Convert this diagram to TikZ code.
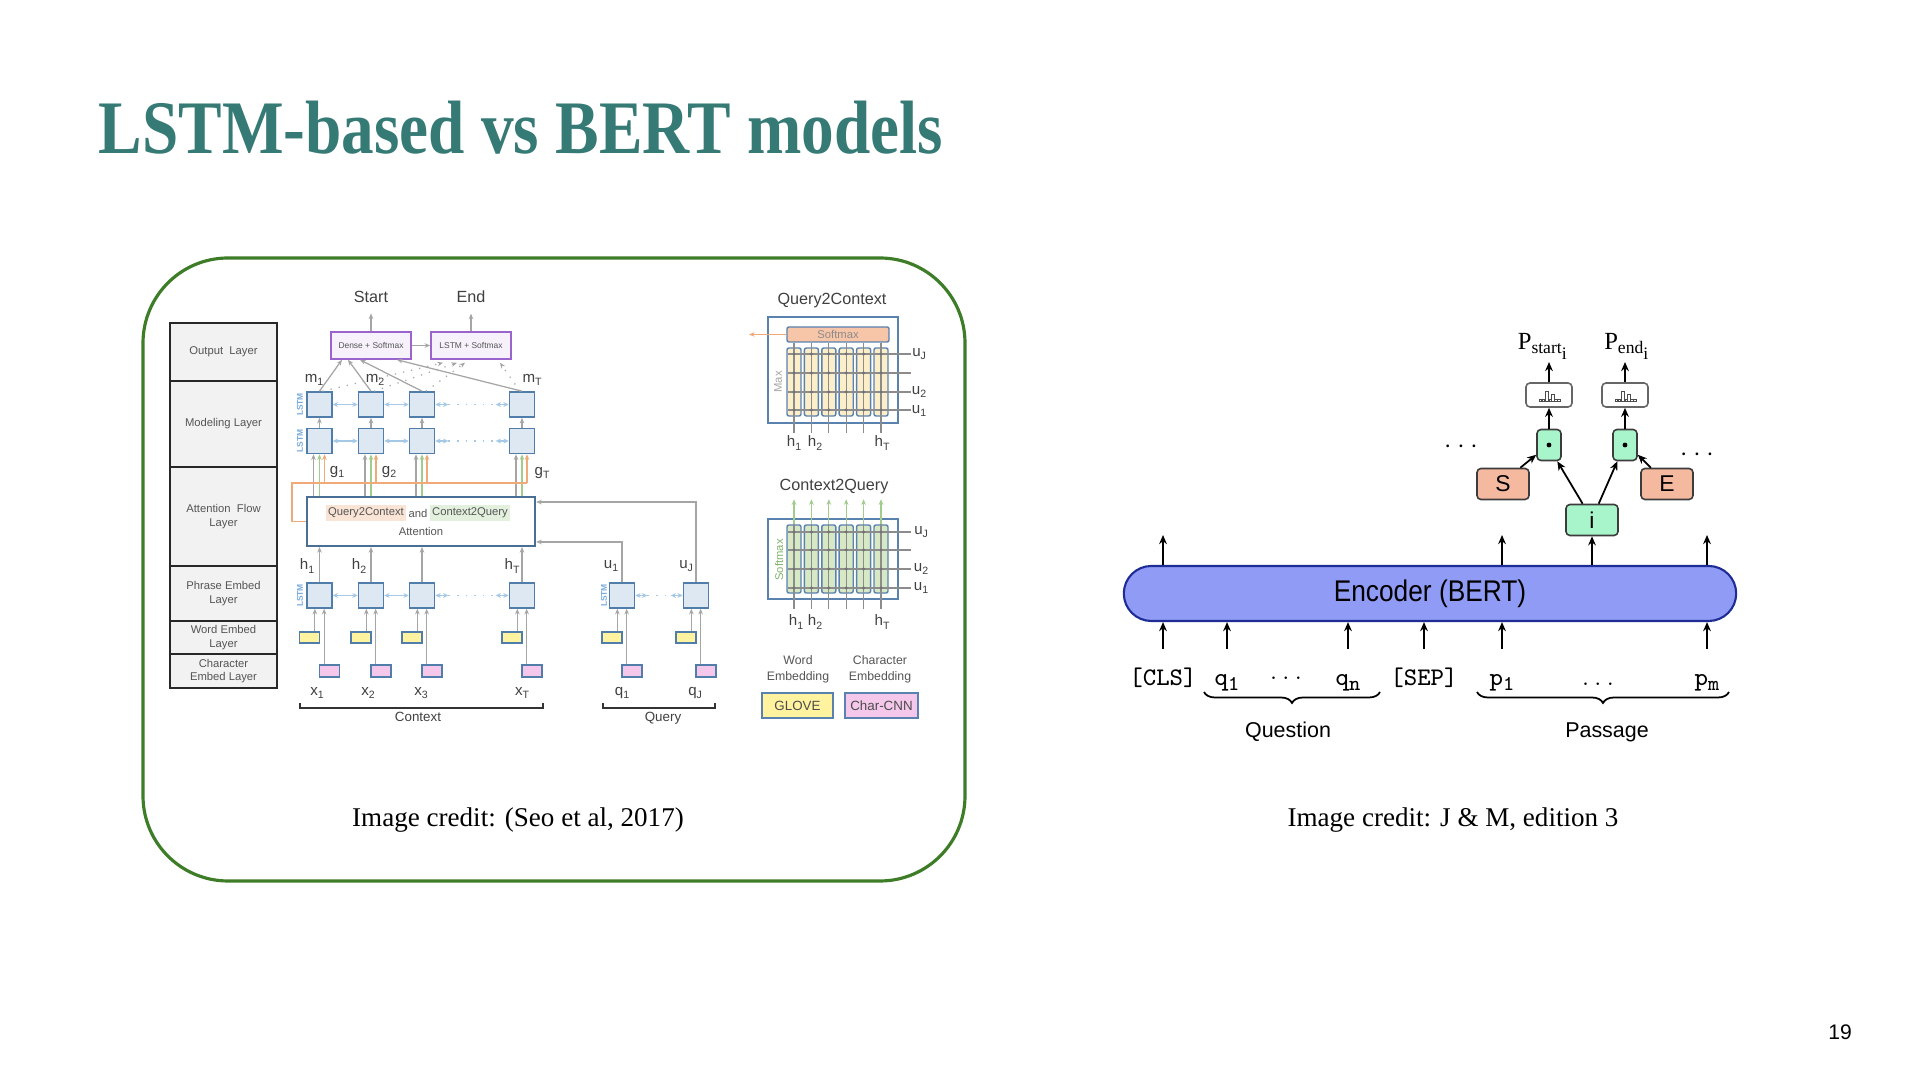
\documentclass[tikz,border=0pt]{standalone}
\usepackage{fontspec}
\setmainfont{Liberation Serif}
\newfontfamily\figsans{Liberation Sans}
\usetikzlibrary{arrows.meta,calc,decorations.pathreplacing}

\definecolor{titleteal}{RGB}{54,122,118}
\definecolor{framegreen}{RGB}{62,125,40}
\definecolor{lygrey}{RGB}{242,242,242}
\definecolor{lyborder}{RGB}{40,40,40}
\definecolor{txtgrey}{RGB}{85,85,85}
\definecolor{arrgrey}{RGB}{165,165,165}
\definecolor{lstmfill}{RGB}{221,232,243}
\definecolor{lstmdraw}{RGB}{80,125,170}
\definecolor{lstmlab}{RGB}{120,170,220}
\definecolor{lblue}{RGB}{165,200,230}
\definecolor{purp}{RGB}{155,100,205}
\definecolor{purpfill}{RGB}{246,241,251}
\definecolor{orng}{RGB}{240,170,120}
\definecolor{grn}{RGB}{160,205,140}
\definecolor{q2cbg}{RGB}{250,228,214}
\definecolor{c2qbg}{RGB}{228,240,222}
\definecolor{yel}{RGB}{255,243,160}
\definecolor{pnk}{RGB}{245,200,235}
\definecolor{panelblue}{RGB}{90,130,175}
\definecolor{attdraw}{RGB}{74,111,149}
\definecolor{softpeach}{RGB}{247,197,168}
\definecolor{cream}{RGB}{252,238,200}
\definecolor{lgreen}{RGB}{214,232,196}
\definecolor{sgreen}{RGB}{130,180,110}
\definecolor{encfill}{RGB}{143,155,245}
\definecolor{encdraw}{RGB}{30,45,150}
\definecolor{mint}{RGB}{168,245,204}
\definecolor{salmon}{RGB}{245,185,160}
\definecolor{boxdark}{RGB}{60,60,60}

\newcommand{\fsz}[2]{\fontsize{#1}{#2}\selectfont}
\newcommand{\toksub}[1]{\raisebox{-0.45ex}{\fsz{6pt}{7pt}#1}}

\begin{document}
\begin{tikzpicture}[x=0.01cm,y=-0.01cm,
  layerbox/.style={draw=lyborder, line width=0.55pt, fill=lygrey, minimum width=1.07cm, inner sep=0pt, align=center, font=\figsans\fsz{3.2pt}{3.9pt}, text=txtgrey},
  lstm/.style={draw=lstmdraw, fill=lstmfill, line width=0.45pt, minimum size=0.25cm, inner sep=0pt},
  ga/.style={draw=arrgrey, line width=0.35pt, -{Stealth[length=1.6pt,width=1.3pt]}},
  gnarrow/.style={draw=grn, line width=0.35pt, -{Stealth[length=1.6pt,width=1.3pt]}},
  orarrow/.style={draw=orng, line width=0.35pt, -{Stealth[length=1.6pt,width=1.3pt]}},
  orline/.style={draw=orng, line width=0.35pt},
  gline/.style={draw=black!45, line width=0.3pt},
  lba/.style={draw=lblue, line width=0.45pt, {Stealth[length=1.5pt,width=1.4pt]}-{Stealth[length=1.5pt,width=1.4pt]}},
  lbd/.style={draw=lblue, line width=0.45pt, dotted},
  figlab/.style={font=\figsans\fsz{4.3pt}{5pt}, text=black!75, inner sep=0pt},
  smalltxt/.style={font=\figsans\fsz{3.2pt}{3.9pt}, text=txtgrey, inner sep=0pt},
  outbox/.style={draw=purp, fill=purpfill, line width=0.45pt, minimum width=0.8cm, minimum height=0.27cm, inner sep=0pt, font=\figsans\fsz{2.4pt}{3pt}, text=txtgrey},
  ywbox/.style={draw=lstmdraw, fill=yel, line width=0.4pt, minimum width=0.2cm, minimum height=0.11cm, inner sep=0pt},
  pkbox/.style={draw=lstmdraw, fill=pnk, line width=0.4pt, minimum width=0.2cm, minimum height=0.12cm, inner sep=0pt},
  lstmtag/.style={rotate=90, font=\figsans\bfseries\fsz{2.4pt}{3pt}, text=lstmlab, inner sep=0pt},
  matcol/.style={draw=panelblue, line width=0.4pt, rounded corners=0.02cm, minimum width=0.14cm, minimum height=0.68cm, inner sep=0pt},
  brk/.style={draw=black!80, line width=0.45pt},
  barr/.style={draw=black, line width=0.5pt, -{Stealth[length=2.6pt,width=2.2pt]}},
  rbox/.style={draw=boxdark, line width=0.45pt, rounded corners=0.04cm, inner sep=0pt, font=\figsans\fsz{6.5pt}{7.5pt}},
  tok/.style={font=\ttfamily\fsz{7.2pt}{8.5pt}, anchor=base, inner sep=0pt},
  credit/.style={font=\rmfamily\fsz{7.7pt}{9pt}, inner sep=0pt}
]
\useasboundingbox (0,0) rectangle (1920,1080);
\fill[white] (0,0) rectangle (1920,1080);

% ---------- title ----------
\node[anchor=base west, inner sep=0pt, text=titleteal, font=\rmfamily\bfseries\fsz{21.5pt}{24pt}] (title) at (98,154) {\scalebox{0.863}[1]{LSTM-based vs BERT models}};

% ---------- frame ----------
\draw[framegreen, line width=0.9pt, rounded corners=0.85cm] (143,258) rectangle (965,881);

% ---------- layer column ----------
\node[layerbox, minimum height=0.58cm] (lyOut) at (223.5,352) {Output\ \ Layer};
\node[layerbox, minimum height=0.86cm] (lyMod) at (223.5,424) {Modeling Layer};
\node[layerbox, minimum height=0.99cm] (lyAtt) at (223.5,516.5) {Attention\ \ Flow\\Layer};
\node[layerbox, minimum height=0.55cm] (lyPhr) at (223.5,593.5) {Phrase Embed\\Layer};
\node[layerbox, minimum height=0.33cm] (lyWrd) at (223.5,637.5) {Word Embed\\Layer};
\node[layerbox, minimum height=0.34cm] (lyChr) at (223.5,671) {Character\\Embed Layer};

% ---------- attention box ----------
\node[draw=attdraw, line width=0.6pt, fill=white, minimum width=2.28cm, minimum height=0.49cm, inner sep=0pt] (att) at (421,521.5) {};
\node[smalltxt, fill=q2cbg, inner sep=0.7pt] (q2ct) at (366,513) {Query2Context};
\node[smalltxt] (andt) at (418,513) {and};
\node[smalltxt, fill=c2qbg, inner sep=0.7pt] (c2qt) at (470,513) {Context2Query};
\node[smalltxt] (attt) at (421,531) {Attention};

\coordinate (orL) at (292,483);
\coordinate (attin1) at ($(att.north east)!0.9!(att.south east)$);
\coordinate (attin2) at ($(att.north east)!0.12!(att.south east)$);

% ---------- context columns ----------
\foreach \i/\cx in {1/319.5,2/371,3/422,4/522} {
  \node[lstm] (ph\i) at (\cx,595.5) {};
  \node[lstm] (mlo\i) at (\cx,441) {};
  \node[lstm] (mup\i) at (\cx,404.5) {};
  \node[ywbox] (yw\i) at (\cx-10,637.5) {};
  \node[pkbox] (pk\i) at (\cx+10,671) {};
  \coordinate (ya\i) at ($(yw\i.north)!0.5!(yw\i.north east)$);
  \coordinate (pa\i) at ($(pk\i.north)!0.5!(pk\i.north west)$);
  \draw[ga] (ya\i) -- (ya\i |- ph\i.south);
  \draw[ga] (pa\i) -- (pa\i |- ph\i.south);
  \draw[ga] (ph\i.north) -- (ph\i.north |- att.south);
  \coordinate (gl\i) at ([xshift=-0.06cm]mlo\i.south);
  \coordinate (or\i) at ([xshift=0.05cm]mlo\i.south);
  \draw[ga] (gl\i |- att.north) -- (gl\i);
  \draw[gnarrow] (mlo\i.south |- att.north) -- (mlo\i.south);
  \draw[orarrow] (or\i |- orL) -- (or\i);
  \draw[ga] (mlo\i.north) -- (mup\i.south);
}
\draw[orline] (att.west) -| (orL) -- (or4 |- orL);

% horizontal bi-directional links
\foreach \r in {ph,mlo,mup} {
  \draw[lba] (\r1.east) -- (\r2.west);
  \draw[lba] (\r2.east) -- (\r3.west);
  \draw[lba] (\r3.east) -- ([xshift=0.13cm]\r3.east);
  \draw[lbd] ([xshift=0.13cm]\r3.east) -- ([xshift=-0.13cm]\r4.west);
  \draw[lba] ([xshift=-0.13cm]\r4.west) -- (\r4.west);
}

% LSTM tags
\node[lstmtag] (tg1) at (300,404.5) {LSTM};
\node[lstmtag] (tg2) at (300,441) {LSTM};
\node[lstmtag] (tg3) at (300,595.5) {LSTM};
\node[lstmtag] (tg4) at (604,595.5) {LSTM};

% ---------- output layer ----------
\node[outbox] (dense) at (371,345.5) {Dense + Softmax};
\node[outbox] (lstmsm) at (471,345.5) {LSTM + Softmax};
\draw[ga] (dense.east) -- (lstmsm.west);
\node[figlab, font=\figsans\fsz{4.6pt}{5.5pt}] (startl) at (371,297) {Start};
\node[figlab, font=\figsans\fsz{4.6pt}{5.5pt}] (endl) at (471,297) {End};
\draw[ga] (dense.north) -- ([yshift=-0.1cm]startl.south);
\draw[ga] (lstmsm.north) -- ([yshift=-0.1cm]endl.south);
\foreach \i/\dx in {1/-0.29,2/-0.23,3/-0.11,4/0.26}
  \draw[ga] (mup\i.north) -- ([xshift=\dx cm]dense.south);
\foreach \i/\sx/\dx in {1/0.03/-0.28,2/0.03/-0.14,3/0.04/-0.06,4/-0.02/0.29}
  \draw[ga, dotted] ([xshift=\sx cm]mup\i.north) -- ([xshift=\dx cm, yshift=-0.03cm]lstmsm.south);

% labels m, g, h, x
\node[figlab] (lm1) at (315,380) {m\textsubscript{1}};
\node[figlab] (lm2) at (376,380) {m\textsubscript{2}};
\node[figlab] (lmT) at (533,380) {m\textsubscript{T}};
\node[figlab] (lg1) at (338,472) {g\textsubscript{1}};
\node[figlab] (lg2) at (390,472) {g\textsubscript{2}};
\node[figlab] (lgT) at (543,473) {g\textsubscript{T}};
\node[figlab] (lh1) at (308,566) {h\textsubscript{1}};
\node[figlab] (lh2) at (360,566) {h\textsubscript{2}};
\node[figlab] (lhT) at (513,566) {h\textsubscript{T}};
\node[figlab] (lx1) at (318,693) {x\textsubscript{1}};
\node[figlab] (lx2) at (369,693) {x\textsubscript{2}};
\node[figlab] (lx3) at (422,693) {x\textsubscript{3}};
\node[figlab] (lxT) at (523,693) {x\textsubscript{T}};

% ---------- query columns ----------
\foreach \i/\cx in {1/622,2/696} {
  \node[lstm] (qph\i) at (\cx,595.5) {};
  \node[ywbox] (qyw\i) at (\cx-10,637.5) {};
  \node[pkbox] (qpk\i) at (\cx+10,671) {};
  \coordinate (qya\i) at ($(qyw\i.north)!0.5!(qyw\i.north east)$);
  \coordinate (qpa\i) at ($(qpk\i.north)!0.5!(qpk\i.north west)$);
  \draw[ga] (qya\i) -- (qya\i |- qph\i.south);
  \draw[ga] (qpa\i) -- (qpa\i |- qph\i.south);
}
\draw[lba] (qph1.east) -- ([xshift=0.12cm]qph1.east);
\draw[lbd] ([xshift=0.12cm]qph1.east) -- ([xshift=-0.12cm]qph2.west);
\draw[lba] ([xshift=-0.12cm]qph2.west) -- (qph2.west);
\draw[ga] (qph1.north) |- (attin1);
\draw[ga] (qph2.north) |- (attin2);
\node[figlab] (lu1) at (612,566) {u\textsubscript{1}};
\node[figlab] (luJ) at (687,566) {u\textsubscript{J}};
\node[figlab] (lq1) at (623,693) {q\textsubscript{1}};
\node[figlab] (lqJ) at (696,693) {q\textsubscript{J}};

% brackets
\coordinate (ctxA) at (300,703); \coordinate (ctxB) at (543,703);
\draw[brk] (ctxA) -- ++(0,5) -| (ctxB);
\node[figlab, font=\figsans\fsz{3.8pt}{4.5pt}] (ctxl) at (418,717) {Context};
\coordinate (qryA) at (603,703); \coordinate (qryB) at (715,703);
\draw[brk] (qryA) -- ++(0,5) -| (qryB);
\node[figlab, font=\figsans\fsz{3.8pt}{4.5pt}] (qryl) at (663,718) {Query};

% ---------- Query2Context panel ----------
\node[figlab, font=\figsans\fsz{4.6pt}{5.5pt}] (q2ctitle) at (832,301) {Query2Context};
\node[draw=panelblue, line width=0.5pt, minimum width=1.30cm, minimum height=1.06cm, inner sep=0pt] (q2cbox) at (833,370) {};
\node[draw=panelblue, fill=softpeach, rounded corners=0.02cm, line width=0.4pt, minimum width=1.02cm, minimum height=0.15cm, inner sep=0pt, font=\figsans\fsz{3.2pt}{3.9pt}, text=black!45] (smx) at (838,334.5) {Softmax};
\coordinate (smxout) at (749,334.5);
\draw[orarrow] (smx.west) -- (smxout);
\coordinate (q2cvb) at (0,433);
\foreach \k/\xx in {1/794,2/811.4,3/828.8,4/846.2,5/863.6,6/881} {
  \node[matcol, fill=cream] (qc\k) at (\xx,382) {};
}
\foreach \k in {1,...,6} \draw[gline] (qc\k.north |- smx.south) -- (qc\k.north |- q2cvb);
\foreach \yy in {354,373,392,410} {
  \draw[gline] (788,\yy) -- (911,\yy);
  \foreach \xx in {794,811.4,828.8,846.2,863.6,881} \fill[black!55] (\xx,\yy) circle[radius=0.017cm];
}
\node[figlab] (q2cuJ) at (920,354) {u\textsubscript{J}};
\node[figlab] (q2cu2) at (920,392) {u\textsubscript{2}};
\node[figlab] (q2cu1) at (920,411) {u\textsubscript{1}};
\node[figlab] (q2ch1) at (795,443) {h\textsubscript{1}};
\node[figlab] (q2ch2) at (816,443) {h\textsubscript{2}};
\node[figlab] (q2chT) at (883,443) {h\textsubscript{T}};
\node[lstmtag, font=\figsans\fsz{3.2pt}{3.9pt}, text=black!35] (maxl) at (778,382) {Max};

% ---------- Context2Query panel ----------
\node[figlab, font=\figsans\fsz{4.6pt}{5.5pt}] (c2qtitle) at (834,487) {Context2Query};
\node[draw=panelblue, line width=0.5pt, minimum width=1.30cm, minimum height=0.80cm, inner sep=0pt] (c2qbox) at (833,559) {};
\coordinate (c2qvb) at (0,609);
\foreach \k/\xx in {1/794,2/811.4,3/828.8,4/846.2,5/863.6,6/881} {
  \node[matcol, fill=lgreen] (cc\k) at (\xx,559) {};
  \draw[gnarrow] (cc\k.north) -- ([yshift=0.25cm]cc\k.north);
  \draw[gline] (cc\k.north) -- (cc\k.north |- c2qvb);
}
\foreach \yy in {532,550,569,588} {
  \draw[gline] (788,\yy) -- (911,\yy);
  \foreach \xx in {794,811.4,828.8,846.2,863.6,881} \fill[black!55] (\xx,\yy) circle[radius=0.017cm];
}
\node[figlab] (c2quJ) at (922,532) {u\textsubscript{J}};
\node[figlab] (c2qu2) at (922,569) {u\textsubscript{2}};
\node[figlab] (c2qu1) at (922,588) {u\textsubscript{1}};
\node[figlab] (c2qh1) at (797,622) {h\textsubscript{1}};
\node[figlab] (c2qh2) at (816,622) {h\textsubscript{2}};
\node[figlab] (c2qhT) at (883,622) {h\textsubscript{T}};
\node[lstmtag, font=\figsans\fsz{3.2pt}{3.9pt}, text=sgreen] (smxl) at (779,560) {Softmax};

% ---------- legend ----------
\node[smalltxt, align=center, font=\figsans\fsz{3.5pt}{4.4pt}] (lgw) at (798,669.5) {Word\\Embedding};
\node[smalltxt, align=center, font=\figsans\fsz{3.5pt}{4.4pt}] (lgc) at (880,669.5) {Character\\Embedding};
\node[draw=panelblue, fill=yel, line width=0.55pt, minimum width=0.71cm, minimum height=0.25cm, inner sep=0pt, font=\figsans\fsz{3.8pt}{4.5pt}, text=black!70] (glove) at (797.5,705.5) {GLOVE};
\node[draw=panelblue, fill=pnk, line width=0.55pt, minimum width=0.73cm, minimum height=0.25cm, inner sep=0pt, font=\figsans\fsz{3.8pt}{4.5pt}, text=black!70] (charcnn) at (881.5,705.5) {Char-CNN};

% ---------- captions ----------
\node[credit] (cap1) at (518,820) {Image credit: (Seo et al, 2017)};
\node[credit] (cap2) at (1453,820) {Image credit: J \& M, edition 3};
\node[inner sep=0pt, font=\figsans\fsz{6pt}{7pt}] (pnum) at (1840,1032) {19};

% ---------- BERT ----------
\node[draw=encdraw, fill=encfill, line width=0.6pt, rounded corners=0.275cm, minimum width=6.12cm, minimum height=0.55cm, inner sep=0pt, font=\figsans\fsz{8.5pt}{10pt}] (enc) at (1430,593.5) {\scalebox{0.88}[1]{Encoder (BERT)}};

\node[tok] (tcls) at (1163,686) {[CLS]};
\node[tok] (tq1) at (1227,686) {q\toksub{1}};
\node[tok, font=\rmfamily\fsz{6.4pt}{7.5pt}] (tqd) at (1286,684) {$\cdots$};
\node[tok] (tqn) at (1348,686) {q\toksub{n}};
\node[tok] (tsep) at (1424,686) {[SEP]};
\node[tok] (tp1) at (1502,686) {p\toksub{1}};
\node[tok, font=\rmfamily\fsz{6.4pt}{7.5pt}] (tpd) at (1598,686) {$\ldots$};
\node[tok] (tpm) at (1707,686) {p\toksub{m}};

\coordinate (tokarr) at (0,649);
\coordinate (toparr) at (0,535);
\foreach \t in {tcls,tq1,tqn,tsep,tp1,tpm}
  \draw[barr] (\t |- tokarr) -- (\t |- enc.south);
\foreach \t in {tcls,tp1,tpm}
  \draw[barr] (\t |- enc.north) -- (\t |- toparr);

\draw[decorate, decoration={brace, mirror, amplitude=0.11cm}, line width=0.5pt] (1204,692) -- (1380,692);
\draw[decorate, decoration={brace, mirror, amplitude=0.11cm}, line width=0.5pt] (1477,692) -- (1729,692);
\node[inner sep=0pt, font=\figsans\fsz{6.1pt}{7pt}] (qlab) at (1288,732) {Question};
\node[inner sep=0pt, font=\figsans\fsz{6.1pt}{7pt}] (plab) at (1607,732) {Passage};

\node[rbox, fill=mint, minimum width=0.52cm, minimum height=0.31cm] (ibox) at (1592,520) {i};
\node[rbox, fill=salmon, minimum width=0.52cm, minimum height=0.31cm] (sbox) at (1503,484) {S};
\node[rbox, fill=salmon, minimum width=0.52cm, minimum height=0.31cm] (ebox) at (1667,484) {E};
\node[rbox, fill=mint, minimum width=0.24cm, minimum height=0.31cm] (dot1) at (1549,445) {};
\node[rbox, fill=mint, minimum width=0.24cm, minimum height=0.31cm] (dot2) at (1625,445) {};
\fill (dot1.center) circle[radius=0.024cm];
\fill (dot2.center) circle[radius=0.024cm];
\node[rbox, draw=black!60, fill=white, minimum width=0.46cm, minimum height=0.24cm] (dist1) at (1549,395) {};
\node[rbox, draw=black!60, fill=white, minimum width=0.46cm, minimum height=0.24cm] (dist2) at (1625,395) {};
\foreach \d in {dist1,dist2} {
  \begin{scope}[shift={(\d.center)}]
    \foreach \dx/\h in {-10/2,-7/1.5,-3.5/10,0/1.5,2.5/7,5.5/1.5,8.5/1.5}
      \draw[black!70, line width=0.25pt] (\dx,6) rectangle (\dx+2.5,6-\h);
  \end{scope}
}
\node[inner sep=0pt, anchor=base, font=\rmfamily\fsz{7pt}{8pt}] (pst) at (1544,350) {P\textsubscript{start\textsubscript{i}}};
\node[inner sep=0pt, anchor=base, font=\rmfamily\fsz{7pt}{8pt}] (pen) at (1628,350) {P\textsubscript{end\textsubscript{i}}};
\coordinate (ptip) at (0,362);
\draw[barr] (dist1.north) -- (dist1.north |- ptip);
\draw[barr] (dist2.north) -- (dist2.north |- ptip);
\draw[barr] (dot1.north) -- (dist1.south);
\draw[barr] (dot2.north) -- (dist2.south);
\draw[barr] (ibox.south |- enc.north) -- (ibox.south);

\draw[barr] ($(sbox.north)!0.65!(sbox.north east)$) -- ($(dot1.south west)!0.2!(dot1.north west)$);
\draw[barr] ($(ibox.north)!0.35!(ibox.north west)$) -- ($(dot1.south)!0.65!(dot1.south east)$);
\draw[barr] ($(ibox.north)!0.25!(ibox.north east)$) -- ($(dot2.south)!0.6!(dot2.south west)$);
\draw[barr] ($(ebox.north)!0.6!(ebox.north west)$) -- ($(dot2.south east)!0.2!(dot2.north east)$);

\node[inner sep=0pt, font=\rmfamily\fsz{7pt}{8pt}] (ldots) at (1461,447) {$\cdots$};
\node[inner sep=0pt, font=\rmfamily\fsz{7pt}{8pt}] (rdots) at (1697,455) {$\cdots$};
\end{tikzpicture}
\end{document}
